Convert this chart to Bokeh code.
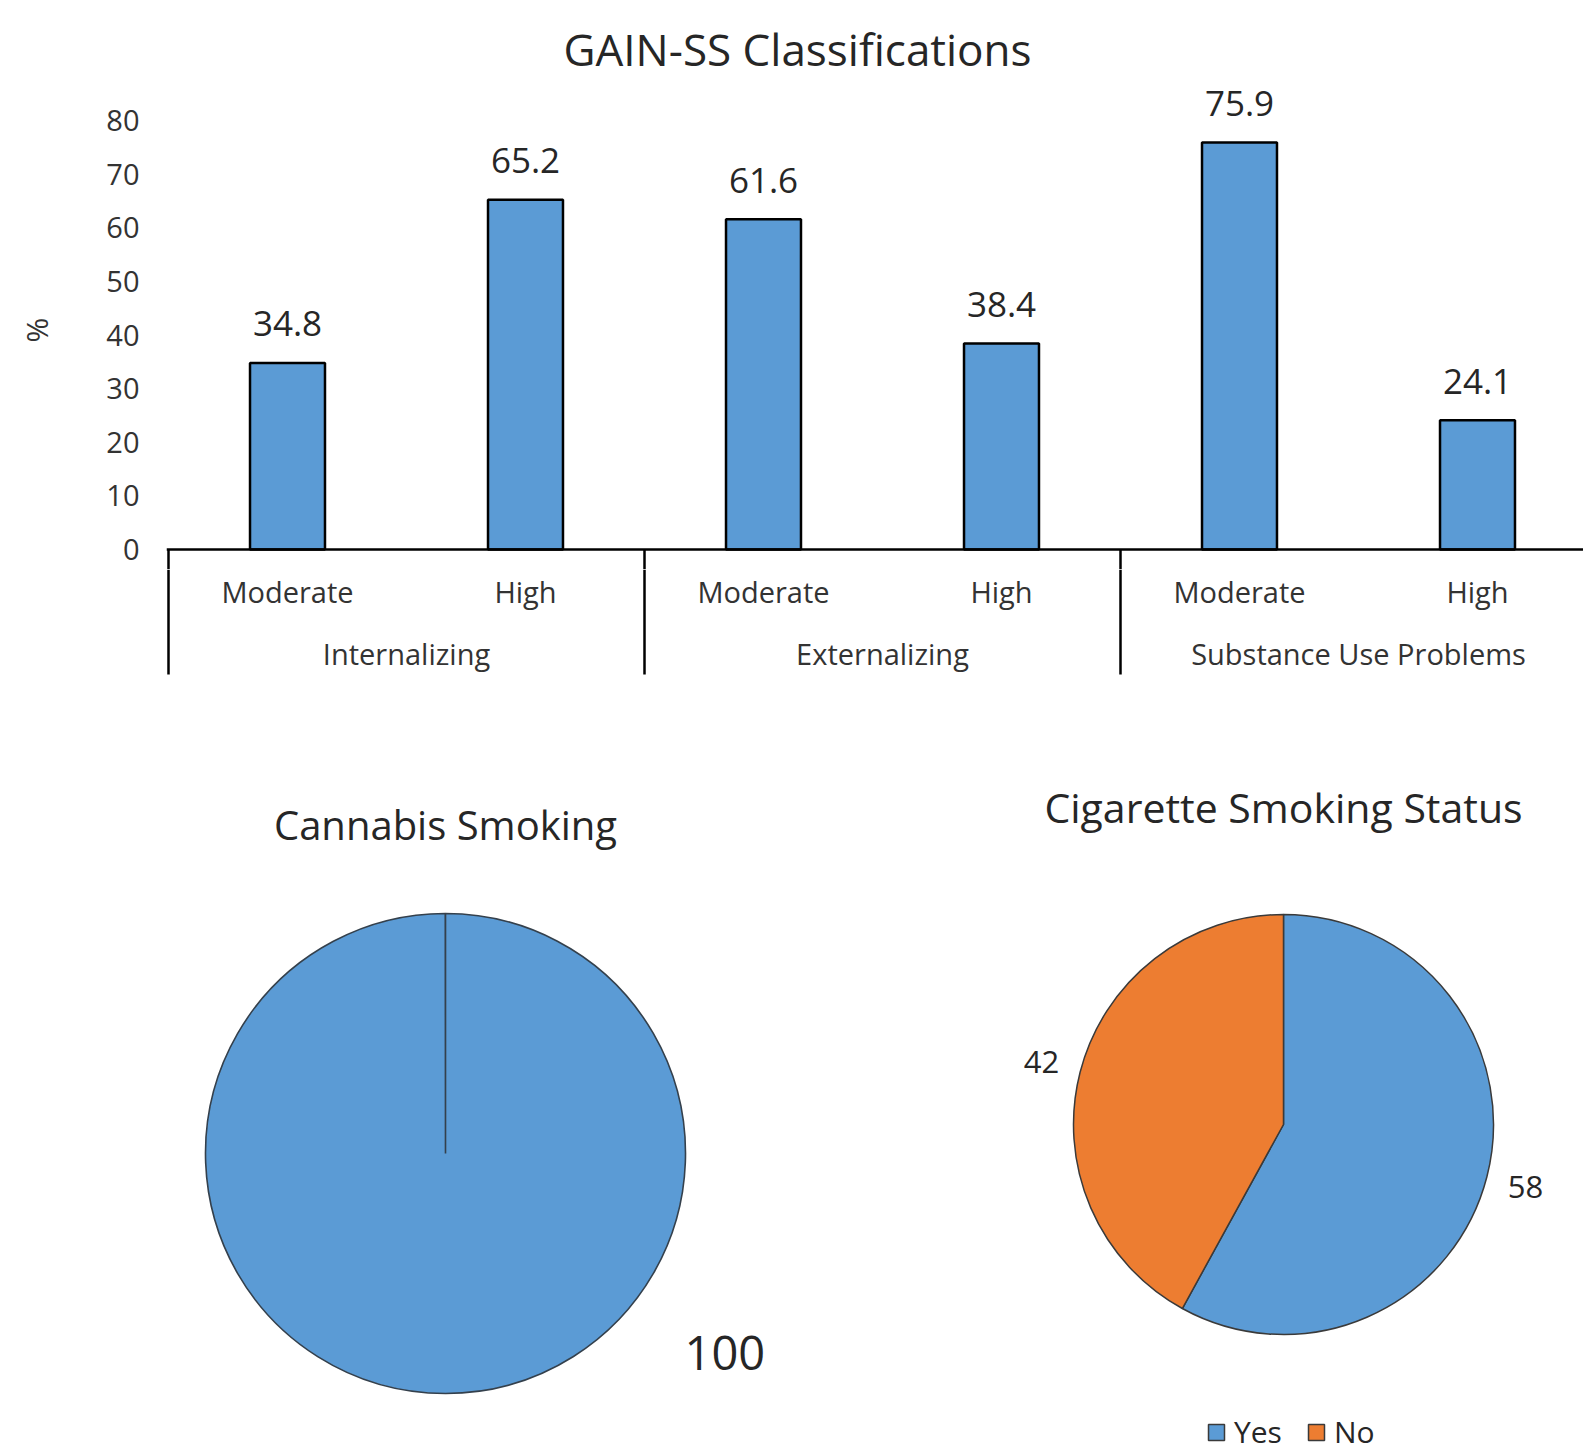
import math
import numpy as np
from bokeh.plotting import figure
from bokeh.layouts import column, row
from bokeh.models import Range1d, FixedTicker, ColumnDataSource, Legend, LegendItem, Span
from bokeh.core.properties import value
from bokeh.embed import file_html
from bokeh.resources import INLINE

# ---------------- data ----------------
groups = ["Internalizing", "Externalizing", "Substance Use Problems"]
levels = ["Moderate", "High"]
percent = [34.8, 65.2, 61.6, 38.4, 75.9, 24.1]
y_ticks = [0, 10, 20, 30, 40, 50, 60, 70, 80]

cannabis_labels = ["Yes"]
cannabis_values = [100]
cigarette_labels = ["Yes", "No"]
cigarette_values = [58, 42]
slice_colors = ["#5B9BD5", "#ED7D31"]

# ---------------- style / layout ----------------
FONT = "Open Sans"
TXT = "#262626"
AX_TXT = "#333333"
BLUE = "#5B9BD5"
W = 1583
LEFT = 168            # x of category origin
UNIT = 238.0          # px per category
Y_PX = 429.0 / 80.0   # px per percent
AXIS_Y = 549          # px of y = 0
FRAME_TOP = 90
EXT = 20              # px of bar frame below the axis line
TOP_H = AXIS_Y + EXT
CAT_H = 700 - TOP_H
PIE_H = 752

n = len(percent)
x_end = (W - LEFT) / UNIT
centers = [i + 0.5 for i in range(n)]
sub_labels = [lv for g in groups for lv in levels]
group_centers = [gi * len(levels) + len(levels) / 2 for gi in range(len(groups))]
separators = [gi * len(levels) for gi in range(len(groups) + 1)]

# ---------------- bar chart ----------------
bar = figure(width=W, height=TOP_H,
             x_range=Range1d(-2 / UNIT, x_end),
             y_range=Range1d(-EXT / Y_PX, (AXIS_Y - FRAME_TOP) / Y_PX),
             output_backend="svg", toolbar_location=None, x_axis_location=None,
             min_border_left=LEFT - 2, min_border_right=0, min_border_top=FRAME_TOP,
             min_border_bottom=0, title="GAIN-SS Classifications")
bar.title.align = "left"
bar.title.offset = 397
bar.title.standoff = 23
bar.title.text_font = FONT
bar.title.text_font_size = "44px"
bar.title.text_font_style = "normal"
bar.title.text_color = TXT
bar.outline_line_color = None
bar.xgrid.visible = False
bar.ygrid.visible = False

ya = bar.yaxis[0]
ya.ticker = FixedTicker(ticks=y_ticks)
ya.axis_line_color = None
ya.major_tick_line_color = None
ya.minor_tick_line_color = None
ya.major_tick_out = 0
ya.major_tick_in = 0
ya.major_label_standoff = 27
ya.major_label_text_font = FONT
ya.major_label_text_font_size = "29px"
ya.major_label_text_color = AX_TXT
ya.axis_label = "%"
ya.axis_label_text_font = FONT
ya.axis_label_text_font_size = "30px"
ya.axis_label_text_font_style = "normal"
ya.axis_label_text_color = AX_TXT
ya.axis_label_standoff = 46

src = ColumnDataSource(dict(x=centers, top=percent, lab=[f"{v:.1f}" for v in percent]))
bar.vbar(x="x", top="top", bottom=0, width=0.315, source=src,
         fill_color=BLUE, line_color="black", line_width=2.5)
bar.add_layout(Span(location=0, dimension="width", line_color="black", line_width=2.5))
bar.segment(x0=separators, y0=[0] * len(separators), x1=separators,
            y1=[-EXT / Y_PX] * len(separators), line_color="black", line_width=2.5)
bar.text(x="x", y="top", text="lab", source=src, text_align="center",
         text_baseline="middle", y_offset=-39, text_font=value(FONT),
         text_font_size="35px", text_color=TXT)

# ---------------- category axis panel (y = px below the axis line) ----------------
cat = figure(width=W, height=CAT_H,
             x_range=Range1d(-2 / UNIT, x_end), y_range=Range1d(EXT + CAT_H, EXT),
             output_backend="svg", toolbar_location=None,
             x_axis_location=None, y_axis_location=None,
             min_border_left=LEFT - 2, min_border_right=0, min_border_top=0, min_border_bottom=0)
cat.outline_line_color = None
cat.xgrid.visible = False
cat.ygrid.visible = False
cat.segment(x0=separators, y0=[EXT] * len(separators), x1=separators, y1=[125] * len(separators),
            line_color="black", line_width=2.5)
cat.text(x=centers, y=[41.5] * n, text=sub_labels, text_align="center", text_baseline="middle",
         text_font=value(FONT), text_font_size="29px", text_color=AX_TXT)
cat.text(x=group_centers, y=[104] * len(groups), text=groups, text_align="center",
         text_baseline="middle", text_font=value(FONT), text_font_size="29px", text_color=AX_TXT)


# ---------------- pies ----------------
def pie_figure(width, cx, cy, r):
    f = figure(width=width, height=PIE_H,
               x_range=Range1d(-cx / r, (width - cx) / r),
               y_range=Range1d(-(PIE_H - cy) / r, cy / r),
               output_backend="svg", toolbar_location=None,
               x_axis_location=None, y_axis_location=None,
               min_border_left=0, min_border_right=0, min_border_top=0, min_border_bottom=0)
    f.outline_line_color = None
    f.xgrid.visible = False
    f.ygrid.visible = False
    return f


def wedge_source(labels, values):
    tot = float(sum(values))
    cum = np.concatenate([[0.0], np.cumsum(values)]) / tot
    start = [math.pi / 2 - 2 * math.pi * c for c in cum[:-1]]
    # a slice of 100 % is drawn as an almost closed sweep (an exact 2*pi arc is empty in SVG)
    end = [max(math.pi / 2 - 2 * math.pi * c, s - 2 * math.pi + 1e-3) for s, c in zip(start, cum[1:])]
    mid = [(a + b) / 2 for a, b in zip(start, end)]
    return ColumnDataSource(dict(label=labels, value=values, start=start, end=end, mid=mid,
                                 color=slice_colors[:len(values)]))


# Cannabis smoking
c_fig = pie_figure(860, 445, 1153 - 700, 240)
c_src = wedge_source(cannabis_labels, cannabis_values)
c_fig.wedge(x=0, y=0, radius=1, start_angle="start", end_angle="end", direction="clock",
            fill_color="color", line_color="#34404c", line_width=1.6, source=c_src)
c_fig.text(x=[0], y=[(1153 - 824) / 240], text=["Cannabis Smoking"], text_align="center",
           text_baseline="alphabetic", text_font=value(FONT), text_font_size="40px", text_color=TXT)
lab_ang = math.radians(-35.5)
c_fig.text(x=[1.43 * math.cos(lab_ang)], y=[1.43 * math.sin(lab_ang)],
           text=[str(v) for v in cannabis_values], text_align="center", text_baseline="middle",
           text_font=value(FONT), text_font_size="47px", text_color=TXT)

# Cigarette smoking status
d_fig = pie_figure(W - 860, 423, 1124 - 700, 210)
d_src = wedge_source(cigarette_labels, cigarette_values)
wr = d_fig.wedge(x=0, y=0, radius=1, start_angle="start", end_angle="end", direction="clock",
                 fill_color="color", line_color="#3a3a3a", line_width=1.5, source=d_src)
d_fig.text(x=[0], y=[(1124 - 806) / 210], text=["Cigarette Smoking Status"], text_align="center",
           text_baseline="alphabetic", text_font=value(FONT), text_font_size="41px", text_color=TXT)
d_lab = ColumnDataSource(dict(
    x=[1.19 * math.cos(m) for m in d_src.data["mid"]],
    y=[1.19 * math.sin(m) for m in d_src.data["mid"]],
    t=[str(v) for v in cigarette_values]))
d_fig.text(x="x", y="y", text="t", source=d_lab, text_align="center", text_baseline="middle",
           text_font=value(FONT), text_font_size="31px", text_color=TXT)

legend = Legend(items=[LegendItem(label=l, renderers=[wr], index=i)
                       for i, l in enumerate(cigarette_labels)],
                location=(346, 0), orientation="horizontal", padding=0, margin=0,
                spacing=24, label_standoff=8, glyph_width=20, glyph_height=20,
                label_text_font=FONT, label_text_font_size="30px", label_text_color=TXT,
                border_line_color=None, background_fill_alpha=0)
d_fig.add_layout(legend)

layout = column(bar, cat, row(c_fig, d_fig))
open("out.html", "w").write(file_html(layout, INLINE))
